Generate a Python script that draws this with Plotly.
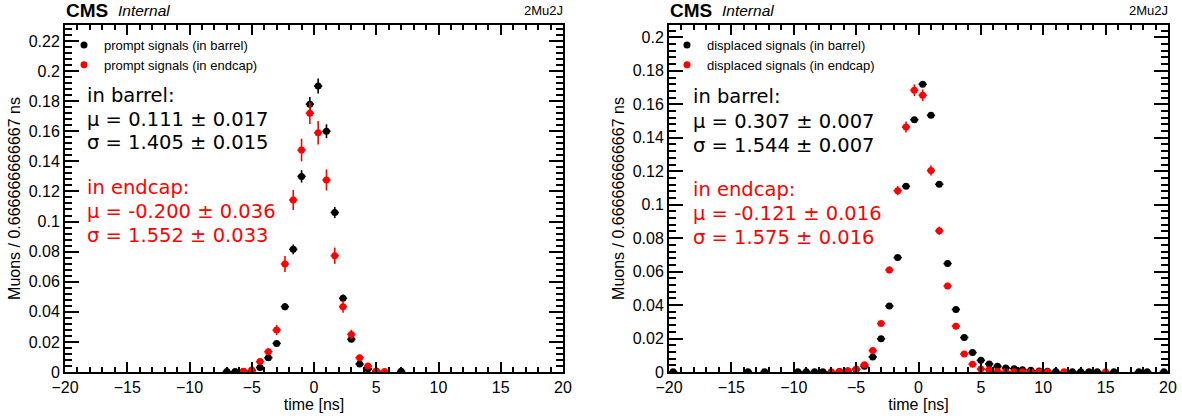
import plotly.graph_objects as go

# ---------------- data (bin centres in ns, bin width 2/3 ns) ----------------
prompt_barrel_t = [-7.0, -6.333, -5.667, -5.0, -4.333, -3.667, -3.0, -2.333, -1.667, -1.0,
                   -0.333, 0.333, 1.0, 1.667, 2.333, 3.0, 3.667, 4.333, 5.0, 7.0]
prompt_barrel_y = [0.0003, 0.0003, 0.0004, 0.0008, 0.003, 0.0095, 0.019, 0.0434, 0.0815, 0.130,
                   0.178, 0.190, 0.160, 0.106, 0.049, 0.0217, 0.0053, 0.002, 0.0005, 0.0005]
prompt_barrel_e = [0.0002, 0.0002, 0.0002, 0.0003, 0.0006, 0.0011, 0.0016, 0.0024, 0.0033, 0.0041,
                   0.0048, 0.0050, 0.0046, 0.0037, 0.0025, 0.0017, 0.0008, 0.0005, 0.0003, 0.0003]

prompt_endcap_t = [-5.667, -5.0, -4.333, -3.667, -3.0, -2.333, -1.667, -1.0, -0.333, 0.333,
                   1.0, 1.667, 2.333, 3.0, 3.667, 4.333, 5.0, 5.667]
prompt_endcap_y = [0.0005, 0.0013, 0.0069, 0.0135, 0.0279, 0.0718, 0.1143, 0.1475, 0.172, 0.159,
                   0.1276, 0.0773, 0.0434, 0.025, 0.0095, 0.004, 0.0007, 0.0004]
prompt_endcap_e = [0.0004, 0.0007, 0.0016, 0.0023, 0.0033, 0.0053, 0.0066, 0.0075, 0.0072, 0.0078,
                   0.0070, 0.0054, 0.0041, 0.0031, 0.0019, 0.0012, 0.0005, 0.0004]

disp_barrel_t = [-19.667, -13.667, -12.333, -9.667, -9.0, -8.333, -7.667, -6.333, -5.667, -5.0,
                 -4.333, -3.667, -3.0, -2.333, -1.667, -1.0, -0.333, 0.333, 1.0, 1.667,
                 2.333, 3.0, 3.667, 4.333, 5.0, 5.667, 6.333, 7.0, 7.667, 8.333,
                 9.0, 9.667, 10.333, 11.0, 12.333, 13.0, 13.667, 14.333, 15.667, 17.667,
                 18.333, 19.667]
disp_barrel_y = [0.0002, 0.0002, 0.0002, 0.0002, 0.0002, 0.0002, 0.0002, 0.0003, 0.0006, 0.0015,
                 0.0035, 0.009, 0.0198, 0.0394, 0.0684, 0.111, 0.1508, 0.172, 0.1534, 0.1122,
                 0.0648, 0.0374, 0.0206, 0.0116, 0.007, 0.0048, 0.0034, 0.0024, 0.002, 0.0014,
                 0.001, 0.0006, 0.0004, 0.0003, 0.0002, 0.0002, 0.0002, 0.0002, 0.0002, 0.0002,
                 0.0002, 0.0002]
disp_barrel_e = [0.0002, 0.0002, 0.0002, 0.0002, 0.0002, 0.0002, 0.0002, 0.0002, 0.0002, 0.0003,
                 0.0004, 0.0005, 0.0006, 0.0008, 0.0010, 0.0013, 0.0016, 0.0017, 0.0016, 0.0013,
                 0.0010, 0.0008, 0.0006, 0.0005, 0.0004, 0.0003, 0.0003, 0.0003, 0.0002, 0.0002,
                 0.0002, 0.0002, 0.0002, 0.0002, 0.0002, 0.0002, 0.0002, 0.0002, 0.0002, 0.0002,
                 0.0002, 0.0002]

disp_endcap_t = [-7.0, -6.333, -5.667, -5.0, -4.333, -3.667, -3.0, -2.333, -1.667, -1.0,
                 -0.333, 0.333, 1.0, 1.667, 2.333, 3.0, 3.667, 4.333, 5.0, 5.667,
                 6.333, 7.0, 7.667, 8.333, 9.0, 9.667, 10.333, 11.667, 15.0]
disp_endcap_y = [0.0002, 0.0003, 0.0008, 0.0018, 0.0044, 0.0128, 0.029, 0.061, 0.1084, 0.1464,
                 0.1684, 0.1654, 0.1204, 0.0844, 0.0514, 0.0274, 0.0108, 0.0046, 0.0018, 0.0014,
                 0.0004, 0.0002, 0.0002, 0.0002, 0.0002, 0.0002, 0.0002, 0.0002, 0.0002]
disp_endcap_e = [0.0002, 0.0002, 0.0003, 0.0004, 0.0006, 0.0010, 0.0015, 0.0021, 0.0028, 0.0033,
                 0.0035, 0.0035, 0.0030, 0.0025, 0.0019, 0.0014, 0.0009, 0.0006, 0.0004, 0.0003,
                 0.0002, 0.0002, 0.0002, 0.0002, 0.0002, 0.0002, 0.0002, 0.0002, 0.0002]

bin_half_width = 1.0 / 3.0

left_stats = ["in barrel:", "μ = 0.111 ± 0.017", "σ = 1.405 ± 0.015",
              "in endcap:", "μ = -0.200 ± 0.036", "σ = 1.552 ± 0.033"]
right_stats = ["in barrel:", "μ = 0.307 ± 0.007", "σ = 1.544 ± 0.007",
               "in endcap:", "μ = -0.121 ± 0.016", "σ = 1.575 ± 0.016"]

W, H = 1182, 418
SANS = "Liberation Sans, Arial, Helvetica, sans-serif"
DEJ = "DejaVu Sans, sans-serif"


def px_x(p):
    return p / W


def px_y(p):
    return 1 - p / H


fig = go.Figure()


def add_series(t, y, e, color, name, xa, ya, leg):
    fig.add_trace(go.Scatter(
        x=t, y=y, mode="markers", name=name,
        marker=dict(color=color, size=7, symbol="circle", line=dict(width=0)),
        error_y=dict(type="data", array=e, visible=True, color=color, thickness=1.6, width=0),
        error_x=dict(type="constant", value=bin_half_width, visible=True, color=color,
                     thickness=1.6, width=0),
        xaxis=xa, yaxis=ya, legend=leg, showlegend=True,
    ))


add_series(prompt_barrel_t, prompt_barrel_y, prompt_barrel_e, "black",
           "prompt signals (in barrel)", "x", "y", "legend")
add_series(prompt_endcap_t, prompt_endcap_y, prompt_endcap_e, "red",
           "prompt signals (in endcap)", "x", "y", "legend")
add_series(disp_barrel_t, disp_barrel_y, disp_barrel_e, "black",
           "displaced signals (in barrel)", "x2", "y2", "legend2")
add_series(disp_endcap_t, disp_endcap_y, disp_endcap_e, "red",
           "displaced signals (in endcap)", "x2", "y2", "legend2")

L1, R1 = 65, 563
L2, R2 = 669, 1168
TOP, BOT = 25, 372

xcommon = dict(range=[-20, 20], dtick=5, tick0=0, ticks="inside", ticklen=10, tickwidth=1.5,
               tickcolor="black", showline=True, linecolor="black", linewidth=2,
               mirror="allticks", showgrid=False, zeroline=False, automargin=False,
               tickfont=dict(family=SANS, size=16, color="black"),
               minor=dict(ticks="inside", ticklen=5, dtick=1, tickwidth=1.5,
                          tickcolor="black", showgrid=False),
               title=dict(text="time [ns]", font=dict(family=SANS, size=16, color="black"),
                          standoff=1))
ycommon = dict(dtick=0.02, tick0=0, ticks="inside", ticklen=14, tickwidth=1.5,
               tickcolor="black", showline=True, linecolor="black", linewidth=2,
               mirror="allticks", showgrid=False, zeroline=False, automargin=False,
               tickfont=dict(family=SANS, size=16, color="black"),
               minor=dict(ticks="inside", ticklen=7, dtick=0.004, tickwidth=1.5,
                          tickcolor="black", showgrid=False),
               title=dict(text="Muons / 0.666666666667 ns",
                          font=dict(family=SANS, size=16, color="black"), standoff=4))

fig.update_layout(
    width=W, height=H, margin=dict(l=0, r=0, t=0, b=0, autoexpand=False),
    paper_bgcolor="white", plot_bgcolor="white",
    xaxis=dict(domain=[px_x(L1), px_x(R1)], anchor="y", **xcommon),
    yaxis=dict(domain=[px_y(BOT), px_y(TOP)], anchor="x", range=[0, 0.2306], **ycommon),
    xaxis2=dict(domain=[px_x(L2), px_x(R2)], anchor="y2", **xcommon),
    yaxis2=dict(domain=[px_y(BOT), px_y(TOP)], anchor="x2", range=[0, 0.2074], **ycommon),
    legend=dict(x=px_x(64), y=px_y(30), xanchor="left", yanchor="top",
                bgcolor="rgba(0,0,0,0)", borderwidth=0, tracegroupgap=0,
                font=dict(family=SANS, size=13, color="black")),
    legend2=dict(x=px_x(667), y=px_y(30), xanchor="left", yanchor="top",
                 bgcolor="rgba(0,0,0,0)", borderwidth=0, tracegroupgap=0,
                 font=dict(family=SANS, size=13, color="black")),
)

annotations = []
# stats text
line_y = [95, 119, 143, 187, 211, 235]
for xl, texts, dy in ((85, left_stats, 0), (691, right_stats, 2)):
    for i, txt in enumerate(texts):
        annotations.append(dict(
            text=txt, x=px_x(xl), y=px_y(line_y[i] + dy), xref="paper", yref="paper",
            xanchor="left", yanchor="middle", showarrow=False,
            font=dict(family=DEJ, size=19.5, color="black" if i < 3 else "red")))

# CMS Internal labels and channel
for xl, xr in ((L1, R1), (L2, R2)):
    annotations.append(dict(text="<b>CMS</b>", x=px_x(xl - 1), y=px_y(10), xref="paper",
                            yref="paper", xanchor="left", yanchor="middle", showarrow=False,
                            font=dict(family=SANS, size=19, color="black")))
    annotations.append(dict(text="<i>Internal</i>", x=px_x(xl + 51), y=px_y(10), xref="paper",
                            yref="paper", xanchor="left", yanchor="middle", showarrow=False,
                            font=dict(family=SANS, size=15.5, color="black")))
    annotations.append(dict(text="2Mu2J", x=px_x(xr + 2), y=px_y(10), xref="paper",
                            yref="paper", xanchor="right", yanchor="middle", showarrow=False,
                            font=dict(family=SANS, size=13, color="black")))

fig.update_layout(annotations=annotations)

fig.write_html("out.html")
